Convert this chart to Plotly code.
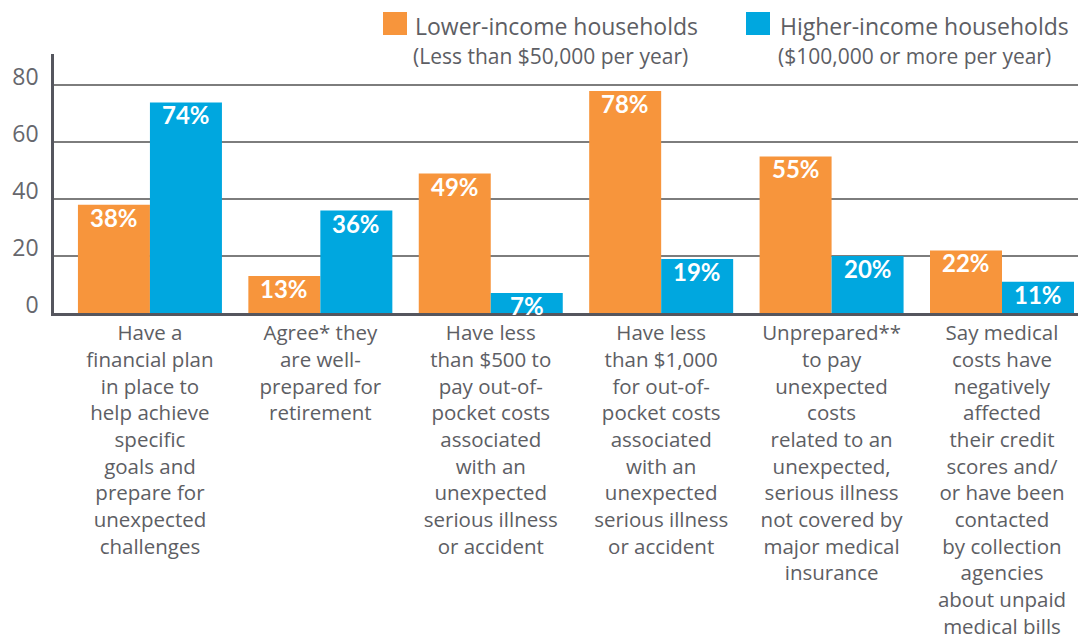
import plotly.graph_objects as go

categories = [
    "Have a<br>financial plan<br>in place to<br>help achieve<br>specific<br>goals and<br>prepare for<br>unexpected<br>challenges",
    "Agree* they<br>are well-<br>prepared for<br>retirement",
    "Have less<br>than $500 to<br>pay out-of-<br>pocket costs<br>associated<br>with an<br>unexpected<br>serious illness<br>or accident",
    "Have less<br>than $1,000<br>for out-of-<br>pocket costs<br>associated<br>with an<br>unexpected<br>serious illness<br>or accident",
    "Unprepared**<br>to pay<br>unexpected<br>costs<br>related to an<br>unexpected,<br>serious illness<br>not covered by<br>major medical<br>insurance",
    "Say medical<br>costs have<br>negatively<br>affected<br>their credit<br>scores and/<br>or have been<br>contacted<br>by collection<br>agencies<br>about unpaid<br>medical bills",
]
lower_income = [38, 13, 49, 78, 55, 22]
higher_income = [74, 36, 7, 19, 20, 11]
series_names = ["Lower-income households", "Higher-income households"]
series_notes = ["(Less than $50,000 per year)", "($100,000 or more per year)"]
y_ticks = [0, 20, 40, 60, 80]

ORANGE = "#F7953C"
BLUE = "#00A7DF"
GREY_TXT = "#5d5e64"
FONT = "Open Sans, sans-serif"
LABEL_FONT = dict(family="Lato, Open Sans, sans-serif", size=24, color="white", weight=700)

W, H = 1078, 636
ml, mr, mt, mb = 54, 0, 54, 323
pw, ph = W - ml - mr, H - mt - mb
x_range = [-0.563, 5.446]
bargap = 0.155
bar_px = (1 - bargap) / 2 * pw / (x_range[1] - x_range[0])

fig = go.Figure()
series = [(lower_income, ORANGE, series_names[0], -1), (higher_income, BLUE, series_names[1], 1)]
for vals, col, name, side in series:
    fig.add_trace(go.Bar(
        x=categories, y=vals, name=name, marker=dict(color=col, line=dict(width=0)),
        showlegend=False, hoverinfo="skip",
    ))
    for cat, v in zip(categories, vals):
        fig.add_annotation(x=cat, y=v, xref="x", yref="y", text=f"{v}%",
                           xshift=side * bar_px / 2, yshift=4,
                           xanchor="center", yanchor="top", showarrow=False,
                           font=LABEL_FONT)


def px_x(p):
    return (p - ml) / pw


def px_y(p):
    return (H - mb - p) / ph


fig.update_layout(
    width=W, height=H,
    margin=dict(l=ml, r=mr, t=mt, b=mb, pad=0, autoexpand=False),
    paper_bgcolor="white", plot_bgcolor="white",
    barmode="group", bargap=bargap, bargroupgap=0,
    font=dict(family=FONT, color=GREY_TXT),
    xaxis=dict(
        type="category", range=x_range, automargin=False,
        showline=True, linecolor="#55565e", linewidth=2.5,
        showgrid=False, ticks="", ticklen=0,
        tickfont=dict(family=FONT, size=20.5, color=GREY_TXT),
        tickangle=0, fixedrange=True,
    ),
    yaxis=dict(
        range=[0, 91], tickvals=y_ticks, ticktext=[str(t) for t in y_ticks],
        automargin=False,
        showline=True, linecolor="#55565e", linewidth=2.5,
        showgrid=True, gridcolor="#7d7d7d", gridwidth=1.5,
        zeroline=False, ticks="", ticklabelstandoff=8, ticklabelshift=-8,
        tickfont=dict(family=FONT, size=23, color="#66676d"),
        fixedrange=True,
    ),
)

# legend drawn as swatches + text
legend_x = [(383, 407, 413), (746, 770, 778)]
colors = [ORANGE, BLUE]
for (x0, x1, tx), col, name, note in zip(legend_x, colors, series_names, series_notes):
    fig.add_shape(type="rect", xref="paper", yref="paper",
                  x0=px_x(x0), x1=px_x(x1), y0=px_y(35), y1=px_y(12),
                  fillcolor=col, line=dict(width=0))
    fig.add_annotation(xref="paper", yref="paper", x=px_x(tx), y=px_y(26),
                       xanchor="left", yanchor="middle", showarrow=False,
                       text=name, font=dict(family=FONT, size=23, color=GREY_TXT))
    fig.add_annotation(xref="paper", yref="paper", x=px_x(tx - 2), y=px_y(56),
                       xanchor="left", yanchor="middle", showarrow=False,
                       text=note, font=dict(family=FONT, size=21, color=GREY_TXT))

fig.write_html("out.html")
